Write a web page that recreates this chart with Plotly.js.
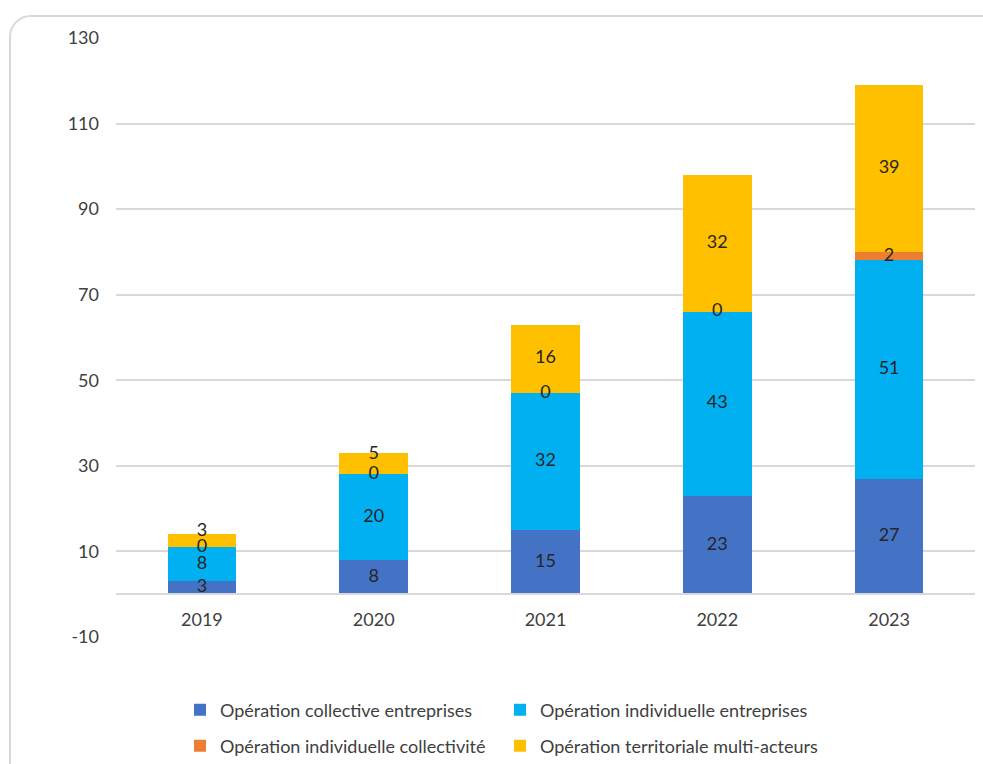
<!DOCTYPE html>
<html>
<head>
<meta charset="utf-8">
<script src="https://cdn.plot.ly/plotly-3.0.1.min.js"></script>
<style>
  html, body { margin:0; padding:0; background:#fff; overflow:hidden; }
  #frame { position:absolute; left:9px; top:15px; width:1000px; height:800px;
           border:2px solid #d9d9d9; border-radius:22px; box-sizing:border-box; }
  #chart { position:absolute; left:0; top:0; width:983px; height:764px; }
</style>
</head>
<body>
<div id="frame"></div>
<div id="chart"></div>
<script>
const years = ['2019', '2020', '2021', '2022', '2023'];
const collectiveEntreprises = [3, 8, 15, 23, 27];
const individuelleEntreprises = [8, 20, 32, 43, 51];
const individuelleCollectivite = [0, 0, 0, 0, 2];
const territorialeMultiActeurs = [3, 5, 16, 32, 39];
const yTickValues = [-10, 10, 30, 50, 70, 90, 110, 130];
const yTickLabels = ['-10', '10', '30', '50', '70', '90', '110', '130'];

const seriesNames = [
  'Opération collective entreprises',
  'Opération individuelle entreprises',
  'Opération individuelle collectivité',
  'Opération territoriale multi-acteurs'
];
const seriesValues = [collectiveEntreprises, individuelleEntreprises, individuelleCollectivite, territorialeMultiActeurs];
const seriesColors = ['#4472C4', '#00B0F0', '#ED7D31', '#FFC000'];
const legendIds = ['legend', 'legend', 'legend2', 'legend2'];

const FONT = 'Lato, "Open Sans", sans-serif';

const traces = seriesValues.map((vals, i) => ({
  type: 'bar',
  name: seriesNames[i],
  x: years,
  y: vals,
  legend: legendIds[i],
  marker: { color: seriesColors[i], line: { width: 0 } },
  hoverinfo: 'x+y+name'
}));

// value labels, centred on each segment (zero segments sit on the boundary);
// small top segments get their label nudged up, as in the original chart
const base = years.map(() => 0);
seriesValues.forEach((vals, i) => {
  const mids = vals.map((v, j) => base[j] + v / 2);
  vals.forEach((v, j) => { base[j] += v; });
  const isTop = i === seriesValues.length - 1;
  traces.push({
    type: 'scatter',
    mode: 'text',
    x: years,
    y: mids,
    text: vals.map(String),
    textposition: vals.map(v => (isTop && v < 8) ? 'top center' : 'middle center'),
    textfont: { family: FONT, size: 18, color: '#262626' },
    showlegend: false,
    hoverinfo: 'skip',
    cliponaxis: false
  });
});

const legendCommon = {
  orientation: 'h',
  traceorder: 'normal',
  xref: 'paper', yref: 'paper',
  xanchor: 'left', yanchor: 'middle',
  x: 0.0745,
  entrywidth: 275, entrywidthmode: 'pixels',
  font: { family: FONT, size: 18, color: '#404040' },
  bgcolor: 'rgba(0,0,0,0)',
  itemclick: false, itemdoubleclick: false
};

const layout = {
  width: 983, height: 764,
  margin: { l: 116, r: 8, t: 38, b: 127, autoexpand: false },
  paper_bgcolor: 'rgba(0,0,0,0)',
  plot_bgcolor: 'rgba(0,0,0,0)',
  barmode: 'stack',
  bargap: 0.6,
  font: { family: FONT, size: 18, color: '#404040' },
  showlegend: true,
  legend: Object.assign({}, legendCommon, { y: -0.122 }),
  legend2: Object.assign({}, legendCommon, { y: -0.182 }),
  xaxis: {
    type: 'category',
    range: [-0.5, 4.5],
    anchor: 'free',
    position: 10 / 140,
    showline: true, linecolor: '#d9d9d9', linewidth: 2,
    showgrid: false, ticks: '',
    ticklabelstandoff: 9,
    tickfont: { family: FONT, size: 18, color: '#404040' },
    fixedrange: true
  },
  yaxis: {
    range: [-10, 130],
    tickmode: 'array',
    tickvals: yTickValues,
    ticktext: yTickLabels,
    showgrid: true, gridcolor: '#d9d9d9', gridwidth: 2,
    zeroline: false, showline: false, ticks: '',
    ticklabelstandoff: 16,
    tickfont: { family: FONT, size: 18, color: '#404040' },
    fixedrange: true
  }
};

Plotly.newPlot('chart', traces, layout, { staticPlot: true, displayModeBar: false });
</script>
</body>
</html>
